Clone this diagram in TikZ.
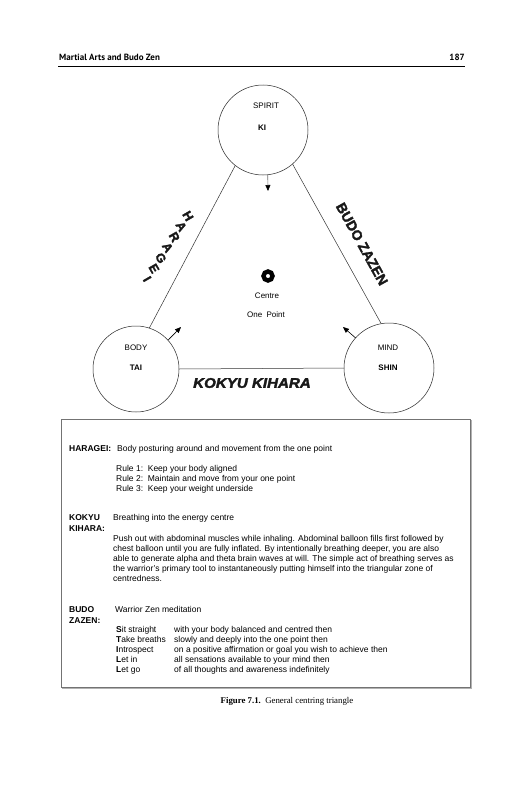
\documentclass[tikz,border=0pt]{standalone}
\usepackage{fontspec}
\setmainfont{Liberation Sans}
\newfontfamily\headfont{PT Sans}
\newfontfamily\capfont{Liberation Serif}
\newfontfamily\heavyfont[BoldFeatures={FakeBold=2.2},BoldItalicFeatures={FakeBold=2.2}]{Liberation Sans}
\usetikzlibrary{arrows.meta}
\tikzset{
  hub/.style={circle, draw=black!85, line width=0.5pt, inner sep=0pt, outer sep=0pt, minimum size=#1},
  lbl/.style={font=\fontsize{8}{9}\selectfont, anchor=base, inner sep=0pt},
  blbl/.style={lbl, font=\fontsize{8}{9}\selectfont\bfseries},
  edge/.style={line width=0.5pt, draw=black!80},
  pointer/.style={line width=0.6pt, -{Triangle[length=6pt,width=5pt,color=black]}},
  boxtxt/.style={font=\fontsize{8.5}{10}\selectfont, anchor=base west, inner sep=0pt},
  boxlbl/.style={boxtxt, font=\fontsize{8.5}{10}\selectfont\bfseries},
  heavy/.style={font=\heavyfont\bfseries\fontsize{14}{14}\selectfont, inner sep=0pt, text=black!90},
  heavysm/.style={font=\heavyfont\bfseries\fontsize{12.5}{13}\selectfont, inner sep=0pt, text=black!90},
  heavyit/.style={font=\heavyfont\bfseries\itshape\fontsize{14}{14}\selectfont, inner sep=0pt, text=black!90},
  headtxt/.style={font=\headfont\bfseries\fontsize{9}{10}\selectfont, inner sep=0pt},
  captxt/.style={font=\capfont\fontsize{8.8}{11}\selectfont, inner sep=0pt},
}
\begin{document}
\begin{tikzpicture}[x=1pt,y=-1pt]
\useasboundingbox (0,0) rectangle (531,800);
\fill[white] (0,0) rectangle (531,800);

% header
\node[headtxt, anchor=base west] (htitle) at (59,60) {Martial Arts and Budo Zen};
\node[headtxt, anchor=base east] (hpage) at (465,60) {187};
\draw[line width=0.9pt] (58,66) -- (465,66);

% circles
\node[hub=90pt] (spirit) at (263,130) {};
\node[hub=86pt] (body) at (136,369) {};
\node[hub=90pt] (mind) at (389,368) {};

\node[lbl] (tspirit) at (266,108) {SPIRIT};
\node[blbl] (tki) at (262,130) {KI};
\node[lbl] (tbody) at (136,350) {BODY};
\node[blbl] (ttai) at (136,370) {TAI};
\node[lbl] (tmind) at (388,350) {MIND};
\node[blbl] (tshin) at (388,370) {SHIN};

% triangle sides
\draw[edge] (spirit.232.6) -- (body.72.8);
\draw[edge] (spirit.311.8) -- (mind.100.5);
\draw[edge] (body.east) -- (mind.west);

% arrows
\coordinate (ktip) at (268,191);
\coordinate (btip) at (181,327);
\coordinate (mtip) at (343,327);
\draw[pointer, draw=black!55] (spirit.-84) -- (ktip);
\draw[pointer] (body.42) -- (btip);
\draw[pointer] (mind.138.6) -- (mtip);

% centre
\node[circle, draw, line width=4.4pt, minimum size=9pt, inner sep=0pt, outer sep=0pt] (ring) at (268,276) {};
\node[lbl] (tcentre) at (267,298) {Centre};
\node[lbl] (tone) at (266,317) {One\ \ Point};

% decorative words
\node[heavyit, xscale=1.08] (kk) at (252,383) {KOKYU KIHARA};
\node[heavy, rotate=-61] (bz) at (362,244) {BUDO ZAZEN};
\foreach \ch [count=\i from 0] in {H,A,R,A,G,E,I} {
  \node[heavysm, rotate=-60] (hg\i) at (188-6.8*\i, 216+10.5*\i) {\ch};
}

% text box
\draw[line width=0.6pt, draw=black!55] (61,419) rectangle (470,687);
\draw[line width=1pt, draw=black!30] (471,420) -- (471,688) -- (62,688);

\node[boxlbl] (lharagei) at (69,451) {HARAGEI:};
\node[boxtxt] (dharagei) at (117,451) {Body posturing around and movement from the one point};
\node[boxtxt] (r1) at (116,471) {Rule 1:\ \ Keep your body aligned};
\node[boxtxt] (r2) at (116,481) {Rule 2:\ \ Maintain and move from your one point};
\node[boxtxt] (r3) at (116,491) {Rule 3:\ \ Keep your weight underside};

\node[boxlbl] (lkokyu) at (69,520) {KOKYU};
\node[boxlbl] (lkihara) at (69,531) {KIHARA:};
\node[boxtxt] (dkokyu) at (113,520) {Breathing into the energy centre};
\node[boxtxt] (p1) at (113,541) {Push out with abdominal muscles while inhaling. Abdominal balloon fills first followed by};
\node[boxtxt] (p2) at (113,551) {chest balloon until you are fully inflated. By intentionally breathing deeper, you are also};
\node[boxtxt] (p3) at (113,561) {able to generate alpha and theta brain waves at will. The simple act of breathing serves as};
\node[boxtxt] (p4) at (113,571) {the warrior's primary tool to instantaneously putting himself into the triangular zone of};
\node[boxtxt] (p5) at (113,581) {centredness.};

\node[boxlbl] (lbudo) at (69,612) {BUDO};
\node[boxlbl] (lzazen) at (69,623) {ZAZEN:};
\node[boxtxt] (dbudo) at (115,612) {Warrior Zen meditation};
\node[boxtxt] (s1) at (116,632) {\textbf{S}it straight};
\node[boxtxt] (s2) at (116,642) {\textbf{T}ake breaths};
\node[boxtxt] (s3) at (116,652) {\textbf{I}ntrospect};
\node[boxtxt] (s4) at (116,662) {\textbf{L}et in};
\node[boxtxt] (s5) at (116,672) {\textbf{L}et go};
\node[boxtxt] (e1) at (174,632) {with your body balanced and centred then};
\node[boxtxt] (e2) at (174,642) {slowly and deeply into the one point then};
\node[boxtxt] (e3) at (174,652) {on a positive affirmation or goal you wish to achieve then};
\node[boxtxt] (e4) at (174,662) {all sensations available to your mind then};
\node[boxtxt] (e5) at (174,672) {of all thoughts and awareness indefinitely};

% caption
\node[captxt, anchor=base] (cap) at (287,703) {\textbf{Figure 7.1.}\ \ General centring triangle};
\end{tikzpicture}
\end{document}
